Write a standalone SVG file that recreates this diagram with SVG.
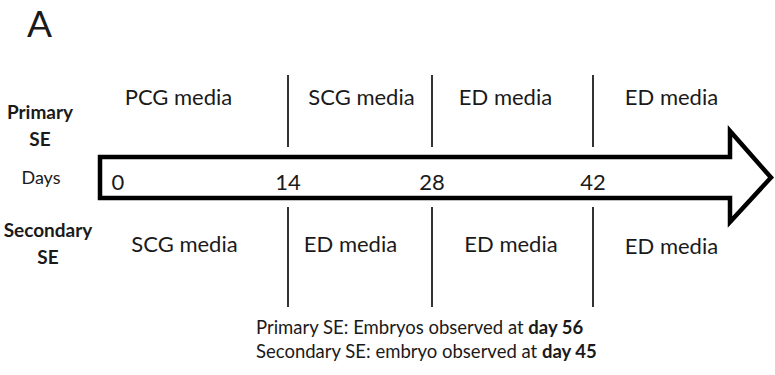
<svg xmlns="http://www.w3.org/2000/svg" width="775" height="375" viewBox="0 0 775 375">
<style>
text{font-family:Lato,"Open Sans","Liberation Sans",sans-serif;fill:#1a1a1a}
.m{font-size:22px;text-anchor:middle}
.b{font-size:19px;font-weight:bold;text-anchor:middle}
.n{font-size:22px;text-anchor:middle}
.f{font-size:18.5px}
.v{stroke:#333;stroke-width:2;fill:none}
</style>
<rect width="775" height="375" fill="#fff"/>
<text x="27" y="37" style="font-size:37px">A</text>
<g id="arrow">
<polygon points="100,157 730,157 730,131 771,177.5 730,222 730,198 100,198" fill="#fff" stroke="#000" stroke-width="4.5" stroke-linejoin="miter"/>
</g>
<g id="connectors">
<line class="v" x1="288" y1="75" x2="288" y2="147"/>
<line class="v" x1="432" y1="75" x2="432" y2="147"/>
<line class="v" x1="593" y1="75" x2="593" y2="147"/>
<line class="v" x1="288" y1="207" x2="288" y2="307"/>
<line class="v" x1="432" y1="207" x2="432" y2="307"/>
<line class="v" x1="593" y1="207" x2="593" y2="307"/>
</g>
<g id="primary-label"><text class="b" x="40" y="119">Primary</text><text class="b" x="40" y="146">SE</text></g>
<g id="days-label"><text x="41" y="184" style="font-size:18px;text-anchor:middle">Days</text></g>
<g id="secondary-label"><text class="b" x="48" y="237">Secondary</text><text class="b" x="48" y="264">SE</text></g>
<g id="p1"><text class="m" x="178.5" y="105">PCG media</text></g>
<g id="p2"><text class="m" x="361.5" y="105">SCG media</text></g>
<g id="p3"><text class="m" x="505.5" y="105">ED media</text></g>
<g id="p4"><text class="m" x="671.5" y="105">ED media</text></g>
<g id="s1"><text class="m" x="184.5" y="252">SCG media</text></g>
<g id="s2"><text class="m" x="350.5" y="252">ED media</text></g>
<g id="s3"><text class="m" x="511" y="252">ED media</text></g>
<g id="s4"><text class="m" x="671.5" y="254">ED media</text></g>
<g id="ticks">
<text class="n" x="118" y="190">0</text>
<text class="n" x="288" y="190">14</text>
<text class="n" x="432" y="190">28</text>
<text class="n" x="593" y="190">42</text>
</g>
<g id="note">
<text class="f" x="256" y="334">Primary SE: Embryos observed at <tspan font-weight="bold">day 56</tspan></text>
<text class="f" x="256" y="358">Secondary SE: embryo observed at <tspan font-weight="bold">day 45</tspan></text>
</g>
</svg>
